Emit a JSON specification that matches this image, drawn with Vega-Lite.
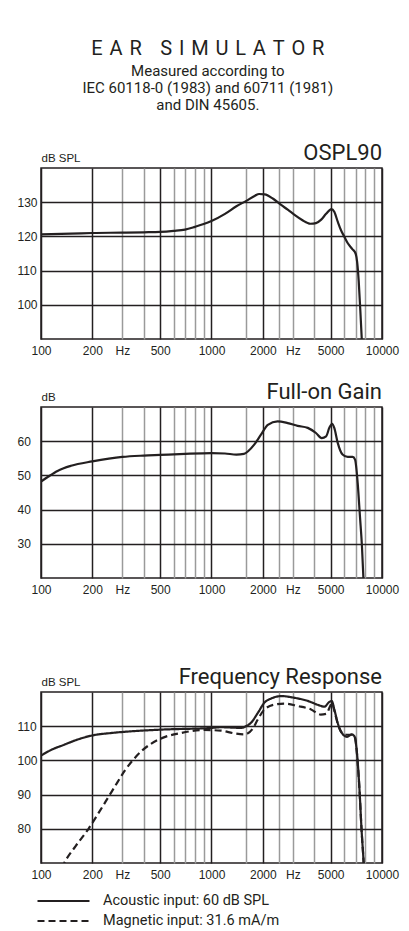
{
  "$schema": "https://vega.github.io/schema/vega-lite/v6.json",
  "padding": {"top": 39, "left": 16, "right": 5, "bottom": 5},
  "background": "white",
  "title": {
    "text": "E\u2004A\u2004R\u2004 \u2004S\u2004I\u2004M\u2004U\u2004L\u2004A\u2004T\u2004O\u2004R",
    "subtitle": ["Measured according to", "IEC 60118-0 (1983) and 60711 (1981)", "and DIN 45605."],
    "anchor": "middle",
    "font": "Roboto",
    "fontSize": 20,
    "fontWeight": "normal",
    "color": "#231f20",
    "subtitleFont": "Roboto",
    "subtitleFontSize": 15,
    "subtitleLineHeight": 17,
    "subtitleColor": "#231f20",
    "subtitlePadding": 5,
    "offset": 28
  },
  "datasets": {
    "ospl": [
      {"f": 100, "v": 120.6}, {"f": 150, "v": 120.8}, {"f": 200, "v": 121.0}, {"f": 300, "v": 121.1},
      {"f": 400, "v": 121.2}, {"f": 500, "v": 121.3}, {"f": 600, "v": 121.6}, {"f": 700, "v": 122.0},
      {"f": 800, "v": 122.8}, {"f": 900, "v": 123.6}, {"f": 1000, "v": 124.5}, {"f": 1200, "v": 126.6},
      {"f": 1400, "v": 128.8}, {"f": 1600, "v": 130.4}, {"f": 1800, "v": 131.9}, {"f": 1900, "v": 132.4},
      {"f": 2050, "v": 132.3}, {"f": 2300, "v": 131.0}, {"f": 2560, "v": 129.2}, {"f": 2800, "v": 127.8},
      {"f": 3070, "v": 126.3}, {"f": 3400, "v": 124.8}, {"f": 3800, "v": 123.7}, {"f": 4100, "v": 123.9},
      {"f": 4400, "v": 124.9}, {"f": 4700, "v": 126.6}, {"f": 5050, "v": 128.0}, {"f": 5250, "v": 127.2},
      {"f": 5500, "v": 124.3}, {"f": 5750, "v": 121.8}, {"f": 6000, "v": 120.0}, {"f": 6300, "v": 118.0},
      {"f": 6700, "v": 116.3}, {"f": 7000, "v": 115.0}, {"f": 7150, "v": 112.5}, {"f": 7300, "v": 107.0},
      {"f": 7450, "v": 99.0}, {"f": 7600, "v": 90.5}, {"f": 7700, "v": 84.0}
    ],
    "gain": [
      {"f": 100, "v": 48.2}, {"f": 110, "v": 49.6}, {"f": 125, "v": 51.3}, {"f": 150, "v": 52.8},
      {"f": 200, "v": 54.1}, {"f": 250, "v": 54.9}, {"f": 300, "v": 55.4}, {"f": 400, "v": 55.8},
      {"f": 500, "v": 56.0}, {"f": 700, "v": 56.3}, {"f": 1000, "v": 56.5}, {"f": 1200, "v": 56.4},
      {"f": 1400, "v": 56.1}, {"f": 1550, "v": 56.3}, {"f": 1650, "v": 57.2}, {"f": 1780, "v": 59.0},
      {"f": 1950, "v": 61.9}, {"f": 2140, "v": 64.8}, {"f": 2440, "v": 65.8}, {"f": 2800, "v": 65.3},
      {"f": 3200, "v": 64.5}, {"f": 3670, "v": 63.9}, {"f": 4100, "v": 62.4}, {"f": 4430, "v": 60.9},
      {"f": 4700, "v": 61.4}, {"f": 4910, "v": 63.9}, {"f": 5100, "v": 65.1}, {"f": 5250, "v": 63.9},
      {"f": 5500, "v": 59.5}, {"f": 5870, "v": 56.1}, {"f": 6290, "v": 55.4}, {"f": 6730, "v": 55.4},
      {"f": 6950, "v": 54.6}, {"f": 7200, "v": 47.8}, {"f": 7425, "v": 38.0}, {"f": 7630, "v": 29.2},
      {"f": 7770, "v": 20.5}, {"f": 7850, "v": 15.0}
    ],
    "fr": [
      {"s": "Acoustic input: 60 dB SPL", "f": 100, "v": 101.4},
      {"s": "Acoustic input: 60 dB SPL", "f": 114, "v": 103.0},
      {"s": "Acoustic input: 60 dB SPL", "f": 137, "v": 104.6},
      {"s": "Acoustic input: 60 dB SPL", "f": 164, "v": 106.1},
      {"s": "Acoustic input: 60 dB SPL", "f": 200, "v": 107.3},
      {"s": "Acoustic input: 60 dB SPL", "f": 257, "v": 108.0},
      {"s": "Acoustic input: 60 dB SPL", "f": 337, "v": 108.5},
      {"s": "Acoustic input: 60 dB SPL", "f": 506, "v": 109.0},
      {"s": "Acoustic input: 60 dB SPL", "f": 1000, "v": 109.5},
      {"s": "Acoustic input: 60 dB SPL", "f": 1137, "v": 109.7},
      {"s": "Acoustic input: 60 dB SPL", "f": 1300, "v": 109.6},
      {"s": "Acoustic input: 60 dB SPL", "f": 1490, "v": 109.5},
      {"s": "Acoustic input: 60 dB SPL", "f": 1620, "v": 110.2},
      {"s": "Acoustic input: 60 dB SPL", "f": 1705, "v": 111.0},
      {"s": "Acoustic input: 60 dB SPL", "f": 1870, "v": 113.9},
      {"s": "Acoustic input: 60 dB SPL", "f": 2044, "v": 116.9},
      {"s": "Acoustic input: 60 dB SPL", "f": 2240, "v": 118.1},
      {"s": "Acoustic input: 60 dB SPL", "f": 2570, "v": 118.8},
      {"s": "Acoustic input: 60 dB SPL", "f": 3070, "v": 118.3},
      {"s": "Acoustic input: 60 dB SPL", "f": 3667, "v": 117.4},
      {"s": "Acoustic input: 60 dB SPL", "f": 4284, "v": 116.1},
      {"s": "Acoustic input: 60 dB SPL", "f": 4588, "v": 115.7},
      {"s": "Acoustic input: 60 dB SPL", "f": 4913, "v": 117.1},
      {"s": "Acoustic input: 60 dB SPL", "f": 5067, "v": 117.4},
      {"s": "Acoustic input: 60 dB SPL", "f": 5254, "v": 114.9},
      {"s": "Acoustic input: 60 dB SPL", "f": 5495, "v": 111.0},
      {"s": "Acoustic input: 60 dB SPL", "f": 5800, "v": 108.1},
      {"s": "Acoustic input: 60 dB SPL", "f": 6240, "v": 106.9},
      {"s": "Acoustic input: 60 dB SPL", "f": 6640, "v": 107.6},
      {"s": "Acoustic input: 60 dB SPL", "f": 6880, "v": 107.1},
      {"s": "Acoustic input: 60 dB SPL", "f": 7130, "v": 102.2},
      {"s": "Acoustic input: 60 dB SPL", "f": 7360, "v": 92.4},
      {"s": "Acoustic input: 60 dB SPL", "f": 7590, "v": 79.6},
      {"s": "Acoustic input: 60 dB SPL", "f": 7800, "v": 70.3},
      {"s": "Acoustic input: 60 dB SPL", "f": 7900, "v": 65.0},
      {"s": "Magnetic input: 31.6 mA/m", "f": 125, "v": 65.5},
      {"s": "Magnetic input: 31.6 mA/m", "f": 137, "v": 70.0},
      {"s": "Magnetic input: 31.6 mA/m", "f": 160, "v": 75.0},
      {"s": "Magnetic input: 31.6 mA/m", "f": 190, "v": 80.0},
      {"s": "Magnetic input: 31.6 mA/m", "f": 220, "v": 85.0},
      {"s": "Magnetic input: 31.6 mA/m", "f": 250, "v": 89.5},
      {"s": "Magnetic input: 31.6 mA/m", "f": 280, "v": 93.5},
      {"s": "Magnetic input: 31.6 mA/m", "f": 310, "v": 97.0},
      {"s": "Magnetic input: 31.6 mA/m", "f": 345, "v": 100.0},
      {"s": "Magnetic input: 31.6 mA/m", "f": 390, "v": 102.8},
      {"s": "Magnetic input: 31.6 mA/m", "f": 440, "v": 104.8},
      {"s": "Magnetic input: 31.6 mA/m", "f": 530, "v": 106.8},
      {"s": "Magnetic input: 31.6 mA/m", "f": 660, "v": 108.0},
      {"s": "Magnetic input: 31.6 mA/m", "f": 900, "v": 108.9},
      {"s": "Magnetic input: 31.6 mA/m", "f": 1137, "v": 108.7},
      {"s": "Magnetic input: 31.6 mA/m", "f": 1360, "v": 107.9},
      {"s": "Magnetic input: 31.6 mA/m", "f": 1560, "v": 107.6},
      {"s": "Magnetic input: 31.6 mA/m", "f": 1740, "v": 109.2},
      {"s": "Magnetic input: 31.6 mA/m", "f": 1870, "v": 112.0},
      {"s": "Magnetic input: 31.6 mA/m", "f": 2044, "v": 114.9},
      {"s": "Magnetic input: 31.6 mA/m", "f": 2340, "v": 116.3},
      {"s": "Magnetic input: 31.6 mA/m", "f": 2673, "v": 116.6},
      {"s": "Magnetic input: 31.6 mA/m", "f": 3205, "v": 115.9},
      {"s": "Magnetic input: 31.6 mA/m", "f": 3837, "v": 114.9},
      {"s": "Magnetic input: 31.6 mA/m", "f": 4370, "v": 113.4},
      {"s": "Magnetic input: 31.6 mA/m", "f": 4696, "v": 113.6},
      {"s": "Magnetic input: 31.6 mA/m", "f": 5000, "v": 116.2},
      {"s": "Magnetic input: 31.6 mA/m", "f": 5080, "v": 116.8},
      {"s": "Magnetic input: 31.6 mA/m", "f": 5254, "v": 114.5},
      {"s": "Magnetic input: 31.6 mA/m", "f": 5495, "v": 110.8},
      {"s": "Magnetic input: 31.6 mA/m", "f": 5800, "v": 108.2},
      {"s": "Magnetic input: 31.6 mA/m", "f": 6240, "v": 107.5},
      {"s": "Magnetic input: 31.6 mA/m", "f": 6780, "v": 107.5},
      {"s": "Magnetic input: 31.6 mA/m", "f": 6950, "v": 106.8},
      {"s": "Magnetic input: 31.6 mA/m", "f": 7130, "v": 102.0},
      {"s": "Magnetic input: 31.6 mA/m", "f": 7360, "v": 92.4},
      {"s": "Magnetic input: 31.6 mA/m", "f": 7590, "v": 79.6},
      {"s": "Magnetic input: 31.6 mA/m", "f": 7800, "v": 70.3},
      {"s": "Magnetic input: 31.6 mA/m", "f": 7900, "v": 65.0}
    ]
  },
  "spacing": 69,
  "resolve": {"legend": {"strokeDash": "independent"}},
  "vconcat": [
    {
      "spacing": 23,
      "vconcat": [
        {
          "width": 341,
          "height": 171,
          "title": {"text": "OSPL90", "anchor": "end", "frame": "group", "baseline": "alphabetic", "offset": -30},
          "data": {"name": "ospl"},
          "mark": {"type": "line", "interpolate": "monotone", "clip": true, "color": "#231f20", "strokeWidth": 2.2},
          "encoding": {
            "x": {"field": "f", "type": "quantitative", "scale": {"type": "log", "domain": [100, 10000]},
              "axis": {"title": null, "values": [100,200,300,400,500,600,700,800,900,1000,1600,2000,2500,3000,4000,5000,6000,7000,8000,9000,10000],
                "labelExpr": "datum.value == 300 || datum.value == 3000 ? 'Hz' : (indexof([100,200,500,1000,2000,5000,10000], datum.value) >= 0 ? format(datum.value, 'd') : '')",
                "gridColor": {"condition": {"test": "indexof([100,200,500,1000,2000,5000,10000], datum.value) >= 0", "value": "#231f20"}, "value": "#9a9a9a"}}},
            "y": {"field": "v", "type": "quantitative", "scale": {"domain": [90, 140]},
              "axis": {"title": "dB SPL", "values": [100, 110, 120, 130]}}
          }
        },
        {
          "width": 341,
          "height": 171,
          "title": {"text": "Full-on Gain", "anchor": "end", "frame": "group", "baseline": "alphabetic", "offset": -30},
          "data": {"name": "gain"},
          "mark": {"type": "line", "interpolate": "monotone", "clip": true, "color": "#231f20", "strokeWidth": 2.2},
          "encoding": {
            "x": {"field": "f", "type": "quantitative", "scale": {"type": "log", "domain": [100, 10000]},
              "axis": {"title": null, "values": [100,200,300,400,500,600,700,800,900,1000,1600,2000,2500,3000,4000,5000,6000,7000,8000,9000,10000],
                "labelExpr": "datum.value == 300 || datum.value == 3000 ? 'Hz' : (indexof([100,200,500,1000,2000,5000,10000], datum.value) >= 0 ? format(datum.value, 'd') : '')",
                "gridColor": {"condition": {"test": "indexof([100,200,500,1000,2000,5000,10000], datum.value) >= 0", "value": "#231f20"}, "value": "#9a9a9a"}}},
            "y": {"field": "v", "type": "quantitative", "scale": {"domain": [20, 70]},
              "axis": {"title": "dB", "values": [30, 40, 50, 60]}}
          }
        }
      ]
    },
    {
      "width": 341,
      "height": 171,
      "title": {"text": "Frequency Response", "anchor": "end", "frame": "group", "baseline": "alphabetic", "offset": -30},
      "data": {"name": "fr"},
      "mark": {"type": "line", "interpolate": "monotone", "clip": true, "color": "#231f20", "strokeWidth": 2.2},
      "encoding": {
        "x": {"field": "f", "type": "quantitative", "scale": {"type": "log", "domain": [100, 10000]},
          "axis": {"title": null, "values": [100,200,300,400,500,600,700,800,900,1000,1600,2000,2500,3000,4000,5000,6000,7000,8000,9000,10000],
            "labelExpr": "datum.value == 300 || datum.value == 3000 ? 'Hz' : (indexof([100,200,500,1000,2000,5000,10000], datum.value) >= 0 ? format(datum.value, 'd') : '')",
            "gridColor": {"condition": {"test": "indexof([100,200,500,1000,2000,5000,10000], datum.value) >= 0", "value": "#231f20"}, "value": "#9a9a9a"}}},
        "y": {"field": "v", "type": "quantitative", "scale": {"domain": [70, 120]},
          "axis": {"title": "dB SPL", "values": [80, 90, 100, 110]}},
        "strokeDash": {"field": "s", "type": "nominal",
          "scale": {"domain": ["Acoustic input: 60 dB SPL", "Magnetic input: 31.6 mA/m"], "range": [[1, 0], [7, 4]]},
          "legend": {"title": null, "orient": "none", "legendX": 11.5, "legendY": 198, "padding": 0,
            "symbolType": "M-2.6,0H2.6", "symbolSize": 400, "symbolStrokeWidth": 2, "symbolStrokeColor": "#231f20",
            "labelFont": "Roboto", "labelFontSize": 14.5, "labelColor": "#231f20", "labelOffset": 28.5, "labelLimit": 400, "rowPadding": 2}}
      }
    }
  ],
  "config": {
    "view": {"stroke": "#231f20", "strokeWidth": 1.5},
    "title": {"font": "Roboto", "fontSize": 22, "fontWeight": "normal", "color": "#231f20"},
    "axis": {"labelFont": "Liberation Sans", "labelFontSize": 12, "labelColor": "#231f20", "ticks": false, "domain": false,
      "grid": true, "gridColor": "#231f20", "gridOpacity": 1, "gridWidth": 1.5,
      "titleFont": "Liberation Sans", "titleFontSize": 11.5, "titleFontWeight": "normal", "titleColor": "#231f20"},
    "axisX": {"labelPadding": 6, "labelFlush": false, "labelOverlap": false},
    "axisY": {"labelAlign": "left", "labelPadding": 24, "labelBaseline": "middle", "titleAngle": 0, "titleAlign": "left",
      "titleBaseline": "alphabetic", "titleX": 0, "titleY": -7}
  }
}
